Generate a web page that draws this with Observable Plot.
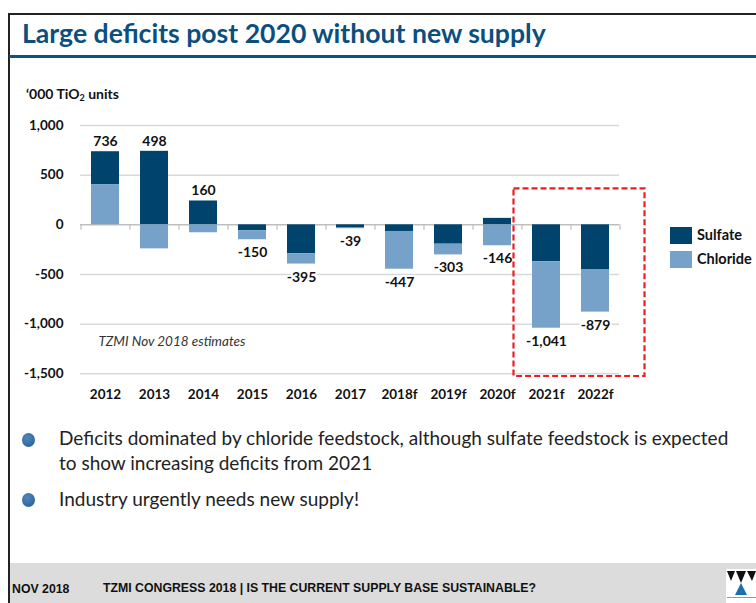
<!DOCTYPE html>
<html>
<head>
<meta charset="utf-8">
<script src="https://cdn.jsdelivr.net/npm/d3@7"></script>
<script src="https://cdn.jsdelivr.net/npm/@observablehq/plot@0.6"></script>
<style>
  html, body { margin: 0; padding: 0; background: #fff; }
  #slide { position: relative; width: 756px; height: 603px; overflow: hidden; font-family: Lato, "Open Sans", sans-serif; }
  .abs { position: absolute; }
  #topline { left: 8px; top: 13px; width: 760px; height: 1.5px; background: #222; }
  #leftline { left: 8px; top: 13px; width: 2px; height: 600px; background: #222; }
  #blueline { left: 9px; top: 55px; width: 760px; height: 3px; background: #0c5384; }
  #title { left: 22px; top: 17px; font-size: 26.6px; font-weight: bold; color: #0b4f80; white-space: nowrap; }
  #ylabel { left: 26px; top: 85px; font-size: 14px; font-weight: bold; color: #111; white-space: nowrap; }
  #ylabel sub { font-size: 9px; vertical-align: -2px; }
  #chart { left: 0px; top: 100px; }
  .leg { font-size: 14.5px; font-weight: bold; color: #111; white-space: nowrap; }
  .sw { width: 22px; height: 17px; }
  .bul { width: 13px; height: 14px; border-radius: 50%; background: radial-gradient(circle at 40% 35%, #4f86bb, #245a8f); }
  .btxt { font-size: 19px; color: #222; white-space: nowrap; }
  #footer { left: 10px; top: 563px; width: 760px; height: 40px; background: #dcdcdc; }
  .ftxt { font-family: "Liberation Sans Narrow", "Liberation Sans", Arial, sans-serif; font-weight: bold; font-size: 12.3px; color: #111; white-space: nowrap; }
</style>
</head>
<body>
<div id="slide">
  <div class="abs" id="footer"></div>
  <div class="abs" id="topline"></div>
  <div class="abs" id="leftline"></div>
  <div class="abs" id="blueline"></div>
  <div class="abs" id="title">Large deficits post 2020 without new supply</div>
  <div class="abs" id="ylabel">‘000 TiO<sub>2</sub> units</div>
  <div class="abs" id="chart"></div>
  <div class="abs sw" style="left:670px;top:227px;background:#00446e"></div>
  <div class="abs leg" style="left:697px;top:226px">Sulfate</div>
  <div class="abs sw" style="left:670px;top:251px;background:#76a1c8"></div>
  <div class="abs leg" style="left:697px;top:250px">Chloride</div>
  <div class="abs bul" style="left:22px;top:433px"></div>
  <div class="abs btxt" style="left:59px;top:426px">Deficits dominated by chloride feedstock, although sulfate feedstock is expected</div>
  <div class="abs btxt" style="left:59px;top:451px">to show increasing deficits from 2021</div>
  <div class="abs bul" style="left:22px;top:493px"></div>
  <div class="abs btxt" style="left:59px;top:487px">Industry urgently needs new supply!</div>
  <div class="abs ftxt" style="left:12px;top:582px">NOV 2018</div>
  <div class="abs ftxt" style="left:103px;top:581px">TZMI CONGRESS 2018 | IS THE CURRENT SUPPLY BASE SUSTAINABLE?</div>
  <svg class="abs" style="left:726px;top:569px" width="30" height="34">
    <rect x="0" y="0" width="30" height="34" fill="#fff"/>
    <polygon points="1,2 9,2 5,12" fill="#111"/>
    <polygon points="10,2 20,2 15,14" fill="#111"/>
    <polygon points="21,2 30,2 26,12" fill="#111"/>
    <polygon points="15,14 9,26 21,26" fill="#1a6fb0"/>
    <rect x="1" y="28" width="29" height="1" fill="#999"/>
  </svg>
</div>
<script>
const years = ["2012","2013","2014","2015","2016","2017","2018f","2019f","2020f","2021f","2022f"];
const sulfate = [331, 740, 240, -60, -292, -33, -67, -195, 65, -372, -455];
const chloride = [405, -242, -80, -90, -103, -6, -380, -108, -211, -669, -424];
const totals = [736, 498, 160, -150, -395, -39, -447, -303, -146, -1041, -879];
const yTicks = [1000, 500, 0, -500, -1000, -1500];
const seriesNames = ["Sulfate", "Chloride"];
const seriesColors = ["#00446e", "#76a1c8"];

const rows = [];
years.forEach((yr, i) => {
  rows.push({year: yr, series: "Sulfate", value: sulfate[i]});
  rows.push({year: yr, series: "Chloride", value: chloride[i]});
});
const labels = years.map((yr, i) => {
  const pos = Math.max(0, sulfate[i]) + Math.max(0, chloride[i]);
  const neg = Math.min(0, sulfate[i]) + Math.min(0, chloride[i]);
  return {year: yr, total: totals[i], anchor: totals[i] > 0 ? pos : neg};
});
const fmt = d => d.toLocaleString("en-US");

const W = 660, ML = 80, MR = 41;
const halfStep = (W - ML - MR) / years.length / 2;

const chart = Plot.plot({
  width: W,
  height: 310,
  marginLeft: ML,
  marginRight: MR,
  marginTop: 25,
  marginBottom: 36.7,
  style: {fontFamily: "Lato, 'Open Sans', sans-serif", fontSize: "13px", fontWeight: "bold", color: "#111", overflow: "visible"},
  x: {domain: years, paddingInner: 0.43, paddingOuter: 0.215, label: null},
  y: {domain: [-1500, 1000], label: null},
  color: {domain: seriesNames, range: seriesColors},
  marks: [
    Plot.gridY(yTicks.filter(d => d !== 0), {stroke: "#d9d9d9", strokeOpacity: 1, strokeWidth: 1.5}),
    Plot.ruleY([0], {stroke: "#bfbfbf", strokeWidth: 1.5}),
    Plot.ruleX(years, {x: d => d, dx: -halfStep, y1: 0, y2: -55, stroke: "#bfbfbf", strokeWidth: 1.2}),
    Plot.ruleX([years[years.length - 1]], {x: d => d, dx: halfStep, y1: 0, y2: -55, stroke: "#bfbfbf", strokeWidth: 1.2}),
    // positive parts: chloride nearest zero; negative parts: sulfate nearest zero
    Plot.barY(rows.filter(d => d.value >= 0), {x: "year", y: "value", fill: "series", inset: 0, order: ["Chloride", "Sulfate"]}),
    Plot.barY(rows.filter(d => d.value < 0), {x: "year", y: "value", fill: "series", inset: 0, order: ["Sulfate", "Chloride"]}),
    Plot.text(labels.filter(d => d.total > 0), {x: "year", y: "anchor", text: d => fmt(d.total), dy: -10, fontSize: 14, fontWeight: "bold", fill: "#111"}),
    Plot.text(labels.filter(d => d.total <= 0), {x: "year", y: "anchor", text: d => fmt(d.total), dy: 13, fontSize: 14, fontWeight: "bold", fill: "#111", stroke: "white", strokeWidth: 4, paintOrder: "stroke"}),
    Plot.axisY(yTicks, {tickSize: 0, tickPadding: 17, tickFormat: fmt, fontSize: 13.5, fontWeight: "bold"}),
    Plot.axisX({tickSize: 0, tickPadding: 16, fontSize: 13.5, fontWeight: "bold"}),
    Plot.text(["TZMI Nov 2018 estimates"], {frameAnchor: "top-left", dx: 18, dy: 211, textAnchor: "start", fontStyle: "italic", fontWeight: "normal", fontSize: 13.5, fill: "#333"})
  ]
});

// Red dashed highlight box around the 2021f–2022f forecasts, placed via the chart's scales
const sx = chart.scale("x"), sy = chart.scale("y");
const gap = (sx.step - sx.bandwidth) / 2;
const bx0 = sx.apply("2021f") - gap - 8;
const bx1 = sx.apply("2022f") + sx.bandwidth + gap + 25;
const yTop = sy.apply(362), yBot = sy.apply(-1527);
d3.select(chart).append("rect")
  .attr("x", bx0)
  .attr("y", yTop)
  .attr("width", bx1 - bx0)
  .attr("height", yBot - yTop)
  .attr("fill", "none")
  .attr("stroke", "#ee1c24")
  .attr("stroke-width", 2.2)
  .attr("stroke-dasharray", "6,3");

document.getElementById("chart").appendChild(chart);
</script>
</body>
</html>
